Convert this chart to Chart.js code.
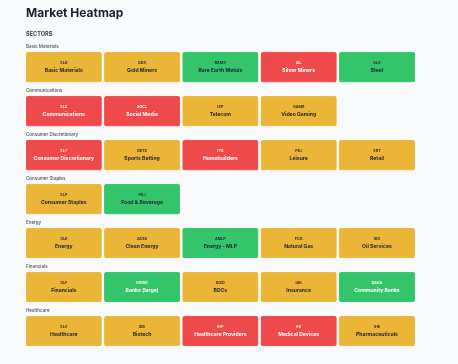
<!DOCTYPE html>
<html>
<head>
<meta charset="utf-8">
<script src="https://cdn.jsdelivr.net/npm/chart.js@4/dist/chart.umd.min.js"></script>
<style>
  html, body { margin: 0; padding: 0; background: #f9fafb; }
  #wrap { width: 458px; height: 364px; position: relative; }
</style>
</head>
<body>
<div id="wrap"><canvas id="c"></canvas></div>
<script>
const groups = ['Basic Materials', 'Communications', 'Consumer Discretionary', 'Consumer Staples', 'Energy', 'Financials', 'Healthcare'];
const tickers = [
  ['XLB', 'GDX', 'REMX', 'SIL', 'SLX'],
  ['XLC', 'SOCL', 'IXP', 'GAMR'],
  ['XLY', 'BETZ', 'ITB', 'PEJ', 'XRT'],
  ['XLP', 'PBJ'],
  ['XLE', 'ACES', 'AMLP', 'FCG', 'IEO'],
  ['XLF', 'KBWB', 'BIZD', 'IAK', 'QABA'],
  ['XLV', 'IBB', 'IHF', 'IHI', 'IHE']
];
const names = [
  ['Basic Materials', 'Gold Miners', 'Rare Earth Metals', 'Silver Miners', 'Steel'],
  ['Communications', 'Social Media', 'Telecom', 'Video Gaming'],
  ['Consumer Discretionary', 'Sports Betting', 'Homebuilders', 'Leisure', 'Retail'],
  ['Consumer Staples', 'Food & Beverage'],
  ['Energy', 'Clean Energy', 'Energy - MLP', 'Natural Gas', 'Oil Services'],
  ['Financials', 'Banks (large)', 'BDCs', 'Insurance', 'Community Banks'],
  ['Healthcare', 'Biotech', 'Healthcare Providers', 'Medical Devices', 'Pharmaceuticals']
];
// signal: 'up' (green), 'flat' (amber), 'down' (red)
const signals = [
  ['flat', 'flat', 'up', 'down', 'up'],
  ['down', 'down', 'flat', 'flat'],
  ['down', 'flat', 'down', 'flat', 'flat'],
  ['flat', 'up'],
  ['flat', 'flat', 'up', 'flat', 'flat'],
  ['flat', 'up', 'flat', 'flat', 'up'],
  ['flat', 'flat', 'down', 'down', 'flat']
];
// text colour: 'light' or 'dark'
const textTones = [
  ['dark', 'dark', 'dark', 'light', 'dark'],
  ['light', 'light', 'dark', 'dark'],
  ['light', 'dark', 'light', 'dark', 'dark'],
  ['dark', 'dark'],
  ['dark', 'dark', 'dark', 'dark', 'dark'],
  ['dark', 'light', 'dark', 'dark', 'light'],
  ['dark', 'dark', 'light', 'light', 'dark']
];

const fillColors = { up: '#34c56b', flat: '#ebb537', down: '#ef4a4b' };
const edgeColors = { up: '#4fd07f', flat: '#f0c455', down: '#f26466' };
const toneColors = { dark: '#1f2430', light: '#ffffff' };
const FONT = 'Inter, "DejaVu Sans", sans-serif';
const TILE_FRACTION = 0.965;

const maxCols = Math.max(...tickers.map(r => r.length));
const datasets = [];
for (let c = 0; c < maxCols; c++) {
  const data = [];
  groups.forEach((g, r) => {
    if (c < tickers[r].length) {
      data.push({ y: g, x: [c, c + TILE_FRACTION], row: r, col: c });
    }
  });
  datasets.push({
    data,
    grouped: false,
    barThickness: 30,
    borderRadius: 2.5,
    borderSkipped: false,
    borderWidth: 0.6,
    backgroundColor: ctx => ctx.raw ? fillColors[signals[ctx.raw.row][ctx.raw.col]] : '#ccc',
    borderColor: ctx => ctx.raw ? edgeColors[signals[ctx.raw.row][ctx.raw.col]] : '#ccc'
  });
}

const tileText = {
  id: 'tileText',
  afterDatasetsDraw(chart) {
    const ctx = chart.ctx;
    ctx.save();
    ctx.textAlign = 'center';
    ctx.textBaseline = 'middle';
    chart.data.datasets.forEach((ds, di) => {
      const meta = chart.getDatasetMeta(di);
      meta.data.forEach((el, i) => {
        const raw = ds.data[i];
        const cx = (el.x + el.base) / 2;
        const cy = el.y;
        ctx.fillStyle = toneColors[textTones[raw.row][raw.col]];
        ctx.font = '600 3.8px ' + FONT;
        ctx.fillText(tickers[raw.row][raw.col], cx, cy - 4);
        ctx.font = '700 5.1px ' + FONT;
        ctx.fillText(names[raw.row][raw.col], cx, cy + 3);
      });
    });
    // group labels above each row
    const yScale = chart.scales.y;
    const left = chart.chartArea.left;
    ctx.textAlign = 'left';
    ctx.fillStyle = '#4b5260';
    ctx.font = '500 4.5px ' + FONT;
    groups.forEach((g, r) => {
      const y = yScale.getPixelForValue(r);
      ctx.fillText(g, left, y - 20);
    });
    ctx.restore();
  }
};

new Chart(document.getElementById('c'), {
  type: 'bar',
  data: { labels: groups, datasets },
  options: {
    indexAxis: 'y',
    responsive: true,
    maintainAspectRatio: false,
    animation: false,
    layout: { padding: { left: 26, right: 40.5, top: 0, bottom: 11 } },
    scales: {
      x: { type: 'linear', min: 0, max: maxCols, display: false },
      y: { type: 'category', display: false }
    },
    plugins: {
      legend: { display: false },
      tooltip: { enabled: false },
      title: {
        display: true,
        text: 'Market Heatmap',
        align: 'start',
        color: '#1c2130',
        font: { family: FONT, size: 12, weight: '700' },
        padding: { top: 5.8, bottom: 10.5 }
      },
      subtitle: {
        display: true,
        text: 'SECTORS',
        align: 'start',
        color: '#3a404c',
        font: { family: FONT, size: 5.6, weight: '700' },
        padding: { top: 0, bottom: 7.7 }
      }
    }
  },
  plugins: [tileText]
});
</script>
</body>
</html>
